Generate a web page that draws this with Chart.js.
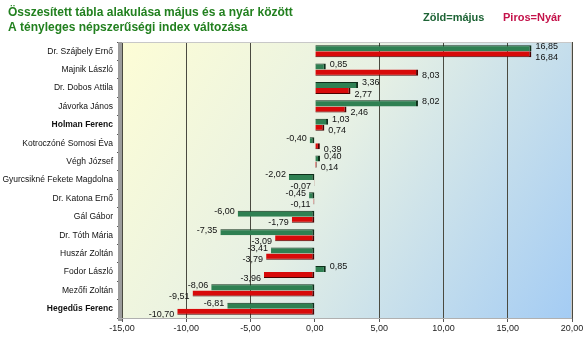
<!DOCTYPE html>
<html><head><meta charset="utf-8">
<script src="https://cdn.jsdelivr.net/npm/chart.js@4.4.1/dist/chart.umd.min.js"></script>
<style>html,body{margin:0;padding:0;background:#fff}#c{display:block}</style>
</head><body>
<canvas id="c" width="585" height="341"></canvas>
<script>
const categories = ["Dr. Szájbely Ernő","Majnik László","Dr. Dobos Attila","Jávorka János","Holman Ferenc","Kotroczóné Somosi Éva","Végh József","Gyurcsikné Fekete Magdolna","Dr. Katona Ernő","Gál Gábor","Dr. Tóth Mária","Huszár Zoltán","Fodor László","Mezőfi Zoltán","Hegedűs Ferenc"];
const majus = [16.85,0.85,3.36,8.02,1.03,-0.40,0.40,-2.02,-0.45,-6.00,-7.35,-3.41,0.85,-8.06,-6.81];
const nyar = [16.84,8.03,2.77,2.46,0.74,0.39,0.14,-0.07,-0.11,-1.79,-3.09,-3.79,-3.96,-9.51,-10.70];
const xTicks = [-15,-10,-5,0,5,10,15,20];
const titleLines = ["Összesített tábla alakulása május és a nyár között","A tényleges népszerűségi index változása"];
const legendTexts = ["Zöld=május","Piros=Nyár"];
const boldCats = ["Holman Ferenc","Hegedűs Ferenc"];

const fmt = v => v.toFixed(2).replace('.', ',');

const bgPlugin = {
  id: 'bg',
  beforeDraw(chart) {
    const {ctx, chartArea: a} = chart;
    const g = ctx.createLinearGradient(a.left, a.top, a.right, a.bottom);
    g.addColorStop(0, '#fdfdd6');
    g.addColorStop(0.45, '#e6f0e4');
    g.addColorStop(1, '#a4ccf4');
    ctx.save();
    ctx.fillStyle = g;
    ctx.fillRect(a.left, a.top, a.right - a.left, a.bottom - a.top);
    ctx.restore();
  },
  afterDraw(chart) {
    const {ctx, chartArea: a} = chart;
    ctx.save();
    ctx.fillStyle = '#9c9c9c';
    ctx.fillRect(a.left - 4, a.top, 4, a.bottom - a.top + 3);
    ctx.strokeStyle = '#c8c8c8';
    ctx.lineWidth = 1;
    ctx.beginPath();
    ctx.moveTo(a.left, a.top + 0.5); ctx.lineTo(a.right, a.top + 0.5);
    ctx.moveTo(a.right - 0.5, a.top); ctx.lineTo(a.right - 0.5, a.bottom);
    ctx.stroke();
    ctx.strokeStyle = '#b0b0b0';
    ctx.beginPath();
    ctx.moveTo(a.left - 4, a.bottom + 0.5); ctx.lineTo(a.right, a.bottom + 0.5);
    ctx.stroke();
    ctx.textBaseline = 'middle';
    ctx.textAlign = 'left';
    ctx.font = 'bold 12px "Liberation Sans", Arial, sans-serif';
    ctx.fillStyle = '#22801f';
    ctx.fillText(titleLines[0], 8, 13);
    ctx.fillText(titleLines[1], 8, 28);
    ctx.font = 'bold 11px "Liberation Sans", Arial, sans-serif';
    ctx.fillStyle = '#1e6436';
    ctx.fillText(legendTexts[0], 423, 18);
    ctx.fillStyle = '#c4124a';
    ctx.fillText(legendTexts[1], 503, 18);
    ctx.restore();
  }
};

const labelPlugin = {
  id: 'vals',
  afterDatasetsDraw(chart) {
    const {ctx} = chart;
    ctx.save();
    ctx.font = '9px "Liberation Sans", Arial, sans-serif';
    ctx.fillStyle = '#111';
    ctx.textBaseline = 'middle';
    chart.data.datasets.forEach((ds, di) => {
      const meta = chart.getDatasetMeta(di);
      meta.data.forEach((el, i) => {
        const v = ds.data[i];
        const y = el.y + (di === 0 ? -2 : 3);
        if (v >= 0) {
          ctx.textAlign = 'left';
          ctx.fillText(fmt(v), el.x + 4, y);
        } else {
          ctx.textAlign = 'right';
          ctx.fillText(fmt(v), el.x - 3, y);
        }
      });
    });
    ctx.restore();
  }
};

new Chart(document.getElementById('c'), {
  type: 'bar',
  data: {
    labels: categories,
    datasets: [
      { label: 'május', data: majus, backgroundColor: '#2f8052', borderColor: '#0e2f1a',
        borderWidth: {top: 1, right: 2, bottom: 0, left: 0}, borderSkipped: false,
        barPercentage: 1, categoryPercentage: 0.66 },
      { label: 'Nyár', data: nyar, backgroundColor: '#d80a0a', borderColor: '#4a0000',
        borderWidth: {top: 0, right: 2, bottom: 1, left: 0}, borderSkipped: false,
        barPercentage: 1, categoryPercentage: 0.66 }
    ]
  },
  options: {
    indexAxis: 'y',
    responsive: false,
    animation: false,
    layout: { padding: { top: 42, right: 13, left: 0, bottom: 0 } },
    plugins: { legend: { display: false }, title: { display: false }, tooltip: { enabled: false } },
    scales: {
      x: {
        min: -15, max: 20,
        afterBuildTicks(s) { s.ticks = xTicks.map(v => ({ value: v })); },
        afterFit(s) { s.height = 23; },
        grid: {
          color: ctx => (ctx.tick && ctx.tick.value === 0) ? 'rgba(0,0,0,0)' : '#4a4a40',
          lineWidth: 1, tickLength: 4, tickColor: '#555', drawTicks: true
        },
        border: { display: false },
        ticks: {
          callback: v => fmt(v), color: '#222', padding: 1,
          font: { size: 9, family: '"Liberation Sans", Arial, sans-serif' }
        }
      },
      y: {
        afterFit(s) { s.width = 122; },
        grid: { drawOnChartArea: false, tickLength: 5, color: '#555', offset: true },
        border: { display: false },
        ticks: {
          color: '#111', padding: 4,
          font: ctx => ({ size: 8.5, family: '"Liberation Sans", Arial, sans-serif',
            weight: boldCats.includes(categories[ctx.index]) ? 'bold' : 'normal' })
        }
      }
    }
  },
  plugins: [bgPlugin, labelPlugin]
});
</script>
</body></html>
